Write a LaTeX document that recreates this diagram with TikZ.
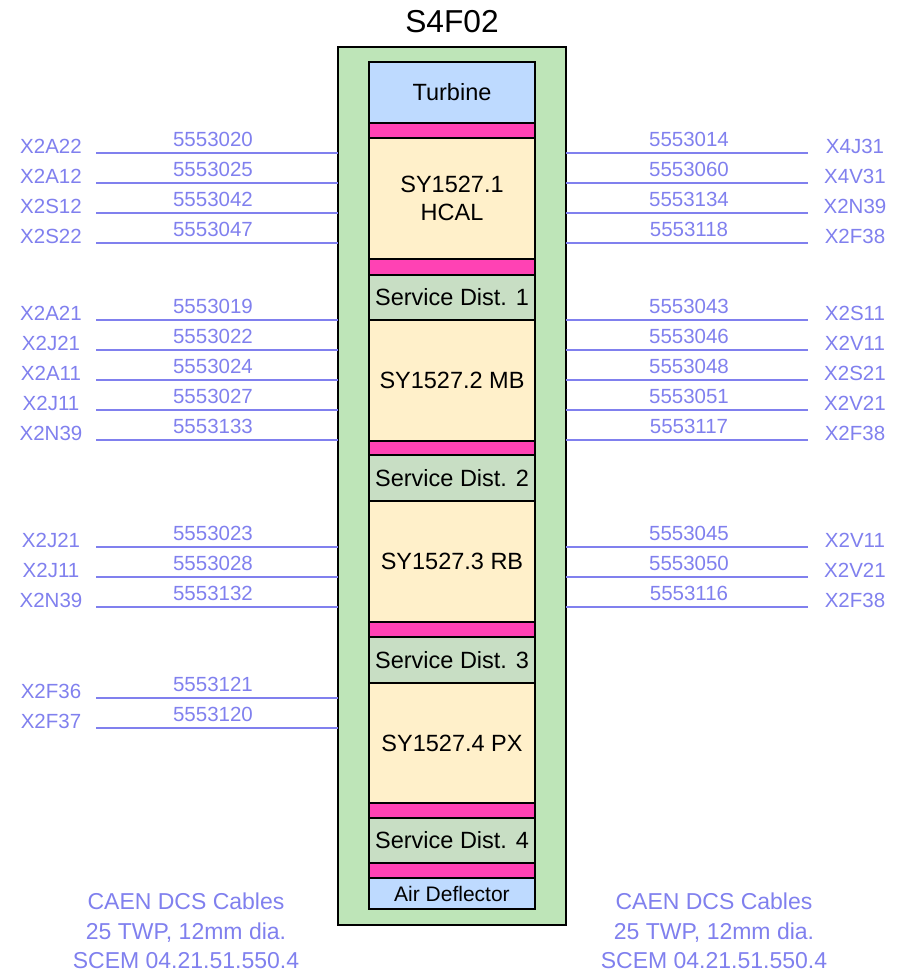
\documentclass[tikz,border=0pt]{standalone}
\usepackage{fontspec}
\setmainfont{Liberation Sans}
\definecolor{cablecol}{RGB}{128,128,238}
\definecolor{rackgreen}{RGB}{190,229,184}
\definecolor{turbblue}{RGB}{190,218,255}
\definecolor{pinkband}{RGB}{255,66,180}
\definecolor{cream}{RGB}{255,240,202}
\definecolor{servgreen}{RGB}{200,222,196}
\tikzset{
  rackbox/.style={draw=black, line width=2.5pt, fill=rackgreen, minimum width=228pt, minimum height=878pt, inner sep=0pt, outer sep=0pt},
  unitbox/.style={draw=black, line width=2.5pt, minimum width=166pt, inner sep=0pt, outer sep=0pt, align=center, text=black, font=\fontsize{23.5}{28}\selectfont},
  cable/.style={draw=cablecol, line width=2pt},
  numlabel/.style={text=cablecol, inner sep=0pt, font=\fontsize{20.5}{24}\selectfont},
  conlabel/.style={text=cablecol, inner sep=0pt, font=\fontsize{20.5}{24}\selectfont},
  notelabel/.style={text=cablecol, inner sep=0pt, align=center, font=\fontsize{23}{29.5}\selectfont},
}
\begin{document}
\begin{tikzpicture}[x=1pt,y=-1pt]
\useasboundingbox (0,0) rectangle (903,974);
\node[inner sep=0pt, font=\fontsize{31.7}{36}\selectfont] (title) at (452,22) {S4F02};
\node[rackbox] (rack) at (452,486) {};
\node[unitbox, fill=turbblue, minimum height=61pt] (turb) at (452,92.5) {\raisebox{-2pt}{Turbine}};
\node[unitbox, fill=pinkband, minimum height=15pt] (p1) at (452,130.5) {};
\node[unitbox, fill=cream, minimum height=121pt] (hcal) at (452,198.5) {SY1527.1\\HCAL};
\node[unitbox, fill=pinkband, minimum height=16pt] (p2) at (452,267) {};
\node[unitbox, fill=servgreen, minimum height=45pt] (sd1) at (452,297.5) {Service Dist. 1};
\node[unitbox, fill=cream, minimum height=121pt] (mb) at (452,380.5) {SY1527.2 MB};
\node[unitbox, fill=pinkband, minimum height=14pt] (p3) at (452,448) {};
\node[unitbox, fill=servgreen, minimum height=46pt] (sd2) at (452,478) {Service Dist. 2};
\node[unitbox, fill=cream, minimum height=121pt] (rb) at (452,561.5) {SY1527.3 RB};
\node[unitbox, fill=pinkband, minimum height=15pt] (p4) at (452,629.5) {};
\node[unitbox, fill=servgreen, minimum height=46pt] (sd3) at (452,660) {Service Dist. 3};
\node[unitbox, fill=cream, minimum height=120pt] (px) at (452,743) {SY1527.4 PX};
\node[unitbox, fill=pinkband, minimum height=15pt] (p5) at (452,810.5) {};
\node[unitbox, fill=servgreen, minimum height=45pt] (sd4) at (452,840.5) {Service Dist. 4};
\node[unitbox, fill=pinkband, minimum height=15pt] (p6) at (452,870.5) {};
\node[unitbox, fill=turbblue, minimum height=31pt, font=\fontsize{21}{24}\selectfont] (ad) at (452,893.5) {Air Deflector};
% left cables
\foreach \y/\n/\l [count=\i] in {153/5553020/X2A22, 183/5553025/X2A12, 213/5553042/X2S12, 243/5553047/X2S22,
  320/5553019/X2A21, 350/5553022/X2J21, 380/5553024/X2A11, 410/5553027/X2J11, 440/5553133/X2N39,
  547/5553023/X2J21, 577/5553028/X2J11, 607/5553132/X2N39,
  698/5553121/X2F36, 728/5553120/X2F37}{
  \coordinate (L\i) at (96,\y);
  \draw[cable] (L\i) -- (L\i -| rack.west);
  \node[numlabel] (Ln\i) at (213,\y-14) {\n};
  \node[conlabel] (Ll\i) at (51,\y-6.5) {\l};
}
% right cables
\foreach \y/\n/\l [count=\i] in {153/5553014/X4J31, 183/5553060/X4V31, 213/5553134/X2N39, 243/5553118/X2F38,
  320/5553043/X2S11, 350/5553046/X2V11, 380/5553048/X2S21, 410/5553051/X2V21, 440/5553117/X2F38,
  547/5553045/X2V11, 577/5553050/X2V21, 607/5553116/X2F38}{
  \coordinate (R\i) at (808,\y);
  \draw[cable] (R\i) -- (R\i -| rack.east);
  \node[numlabel] (Rn\i) at (689,\y-14) {\n};
  \node[conlabel] (Rl\i) at (855,\y-6.5) {\l};
}
\node[notelabel] (noteL) at (186,931) {CAEN DCS Cables\\25 TWP, 12mm dia.\\SCEM 04.21.51.550.4};
\node[notelabel] (noteR) at (714,931) {CAEN DCS Cables\\25 TWP, 12mm dia.\\SCEM 04.21.51.550.4};
\end{tikzpicture}
\end{document}
